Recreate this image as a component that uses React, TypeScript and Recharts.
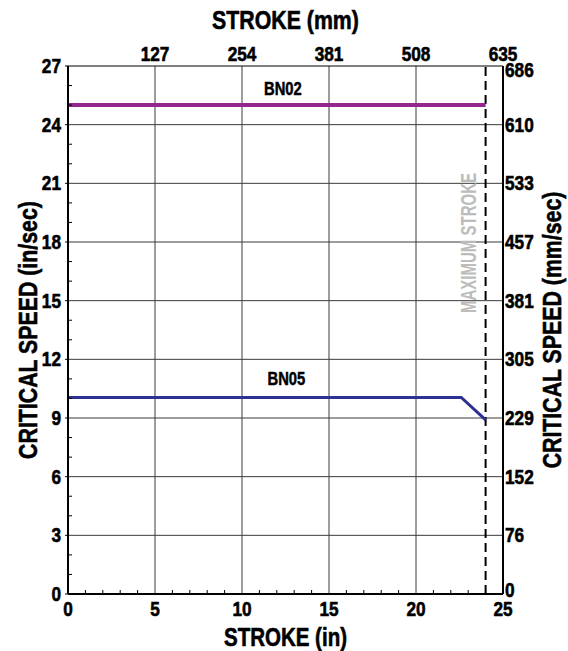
import React from 'react';
import { LineChart, Line, XAxis, YAxis, ReferenceLine, ReferenceDot, Label } from 'recharts';

// ---- data ----
const strokeInTicks = [0, 1, 2, 3, 4, 5, 6, 7, 8, 9, 10, 11, 12, 13, 14, 15, 16, 17, 18, 19, 20, 21, 22, 23, 24, 25];
const strokeMmTickPos = [5, 10, 15, 20, 25];
const strokeMmLabels = ['127', '254', '381', '508', '635'];
const speedInTicks = [0, 1, 2, 3, 4, 5, 6, 7, 8, 9, 10, 11, 12, 13, 14, 15, 16, 17, 18, 19, 20, 21, 22, 23, 24, 25, 26, 27];
const speedInMajor = [0, 3, 6, 9, 12, 15, 18, 21, 24, 27];
const speedMmLabels = ['0', '76', '152', '229', '305', '381', '457', '533', '610', '686'];
const gridStrokeIn = [5, 10, 15, 20];
const gridSpeedIn = [3, 6, 9, 12, 15, 18, 21, 24];
const maxStrokeIn = 24;

const bn02Stroke = [0, 24];
const bn02Speed = [25, 25];
const bn05Stroke = [0, 22.6, 24];
const bn05Speed = [10.05, 10.05, 8.9];

const bn02Data = bn02Stroke.map((s, i) => ({ stroke: s, speed: bn02Speed[i] }));
const bn05Data = bn05Stroke.map((s, i) => ({ stroke: s, speed: bn05Speed[i] }));

const FONT = "'Liberation Sans', Arial, Helvetica, sans-serif";
const TICK_FS = 21;
const TITLE_FS = 26;
const SQUEEZE = 0.82;

const NText = (props: any) => {
  const { x, y, anchor = 'middle', fs, rot = 0, fill = '#000', children, baseline = 'central', sw = 0.6 } = props;
  return (
    <text
      x={0}
      y={0}
      transform={`translate(${x} ${y}) rotate(${rot}) scale(${SQUEEZE} 1)`}
      textAnchor={anchor}
      dominantBaseline={baseline}
      fontFamily={FONT}
      fontWeight="bold"
      fontSize={fs}
      fill={fill}
      stroke={fill}
      strokeWidth={sw}
    >
      {children}
    </text>
  );
};

const BottomTick = (props: any) => {
  const { x, y, payload } = props;
  const v = payload.value;
  if (v % 5 === 0) {
    return <NText x={x} y={y + 15} fs={TICK_FS}>{v}</NText>;
  }
  return <line x1={x} x2={x} y1={y} y2={y - 4} stroke="#000" strokeWidth={1} />;
};

const TopTick = (props: any) => {
  const { x, y, payload } = props;
  const idx = strokeMmTickPos.indexOf(Number(payload.value));
  return <NText x={x} y={y - 12} fs={TICK_FS}>{strokeMmLabels[idx]}</NText>;
};

const LeftTick = (props: any) => {
  const { x, y, payload } = props;
  const v = payload.value;
  if (v % 3 === 0) {
    return (
      <g>
        <line x1={x} x2={x - 3} y1={y} y2={y} stroke="#000" strokeWidth={1} />
        <NText x={x - 7} y={y} anchor="end" fs={TICK_FS}>{v}</NText>
      </g>
    );
  }
  return <line x1={x} x2={x + 4} y1={y} y2={y} stroke="#000" strokeWidth={1} />;
};

const RightTick = (props: any) => {
  const { x, y, payload } = props;
  const idx = speedInMajor.indexOf(Number(payload.value));
  const nudge = idx === 0 ? -4 : idx === speedInMajor.length - 1 ? 4 : 0;
  return <NText x={x + 2} y={y + nudge} anchor="start" fs={TICK_FS}>{speedMmLabels[idx]}</NText>;
};

export default function App() {
  return (
    <div style={{ position: 'absolute', left: 0, top: 0, width: 568, height: 651, background: '#fff' }}>
      <LineChart width={568} height={651} data={bn05Data} margin={{ top: 0, right: 0, bottom: 0, left: 0 }}>
        <XAxis
          xAxisId="bottom"
          type="number"
          dataKey="stroke"
          orientation="bottom"
          domain={[0, 25]}
          ticks={strokeInTicks}
          interval={0}
          height={57}
          tickSize={0}
          tickMargin={0}
          tickLine={false}
          axisLine={{ stroke: '#000', strokeWidth: 2 }}
          tick={BottomTick}
        >
          <Label
            content={(p: any) => {
              const vb = p.viewBox;
              return <NText x={vb.x + vb.width / 2} y={vb.y + 43} fs={25}>STROKE (in)</NText>;
            }}
          />
        </XAxis>
        <XAxis
          xAxisId="top"
          type="number"
          dataKey="stroke"
          orientation="top"
          domain={[0, 25]}
          ticks={strokeMmTickPos}
          interval={0}
          height={66}
          tickSize={0}
          tickMargin={0}
          tickLine={false}
          axisLine={{ stroke: '#000', strokeWidth: 1 }}
          tick={TopTick}
        >
          <Label
            content={(p: any) => {
              const vb = p.viewBox;
              return <NText x={vb.x + vb.width / 2} y={vb.y + 20} fs={TITLE_FS}>STROKE (mm)</NText>;
            }}
          />
        </XAxis>
        <YAxis
          yAxisId="left"
          type="number"
          dataKey="speed"
          orientation="left"
          domain={[0, 27]}
          ticks={speedInTicks}
          interval={0}
          width={68}
          tickSize={0}
          tickMargin={0}
          tickLine={false}
          axisLine={{ stroke: '#000', strokeWidth: 2 }}
          tick={LeftTick}
        >
          <Label
            content={(p: any) => {
              const vb = p.viewBox;
              return <NText x={vb.x + 28} y={vb.y + vb.height / 2} rot={-90} fs={TITLE_FS}>CRITICAL SPEED (in/sec)</NText>;
            }}
          />
        </YAxis>
        <YAxis
          yAxisId="right"
          type="number"
          dataKey="speed"
          orientation="right"
          domain={[0, 27]}
          ticks={speedInMajor}
          interval={0}
          width={65}
          tickSize={0}
          tickMargin={0}
          tickLine={false}
          axisLine={{ stroke: '#000', strokeWidth: 2 }}
          tick={RightTick}
        >
          <Label
            content={(p: any) => {
              const vb = p.viewBox;
              return <NText x={vb.x + 49} y={vb.y + vb.height / 2} rot={-90} fs={TITLE_FS}>CRITICAL SPEED (mm/sec)</NText>;
            }}
          />
        </YAxis>

        {gridStrokeIn.map((g) => (
          <ReferenceLine key={'gx' + g} xAxisId="bottom" yAxisId="left" x={g} stroke="#3a3a3a" strokeWidth={1} />
        ))}
        {gridSpeedIn.map((g) => (
          <ReferenceLine key={'gy' + g} xAxisId="bottom" yAxisId="left" y={g} stroke="#3a3a3a" strokeWidth={1} />
        ))}

        <ReferenceDot
          xAxisId="bottom"
          yAxisId="left"
          x={23.0}
          y={17.95}
          r={0}
          fill="none"
          stroke="none"
          label={(p: any) => {
            const vb = p.viewBox;
            const cx = vb.x + (vb.width || 0) / 2;
            const cy = vb.y + (vb.height || 0) / 2;
            return (
              <text x={cx} y={cy} textAnchor="middle" dominantBaseline="central" transform={`rotate(-90 ${cx} ${cy})`} fontFamily={FONT} fontWeight="bold" fontSize={22} fill="#bcbcbc" textLength={140} lengthAdjust="spacingAndGlyphs">
                MAXIMUM STROKE
              </text>
            );
          }}
        />

        <ReferenceLine xAxisId="bottom" yAxisId="left" x={maxStrokeIn} stroke="#000" strokeWidth={2} strokeDasharray="9 5" />

        <Line
          xAxisId="bottom"
          yAxisId="left"
          data={bn02Data}
          dataKey="speed"
          type="linear"
          stroke="#92278f"
          strokeWidth={4}
          dot={false}
          activeDot={false}
          isAnimationActive={false}
        />
        <Line
          xAxisId="bottom"
          yAxisId="left"
          data={bn05Data}
          dataKey="speed"
          type="linear"
          stroke="#2e3192"
          strokeWidth={3}
          dot={false}
          activeDot={false}
          isAnimationActive={false}
        />

        <ReferenceDot
          xAxisId="bottom"
          yAxisId="left"
          x={12.35}
          y={bn02Speed[0]}
          r={0}
          fill="none"
          stroke="none"
          label={(p: any) => {
            const vb = p.viewBox;
            const cx = vb.x + (vb.width || 0) / 2;
            const cy = vb.y + (vb.height || 0) / 2;
            return <NText x={cx} y={cy - 10} fs={18} baseline="auto" sw={0.5}>BN02</NText>;
          }}
        />
        <ReferenceDot
          xAxisId="bottom"
          yAxisId="left"
          x={12.55}
          y={bn05Speed[0]}
          r={0}
          fill="none"
          stroke="none"
          label={(p: any) => {
            const vb = p.viewBox;
            const cx = vb.x + (vb.width || 0) / 2;
            const cy = vb.y + (vb.height || 0) / 2;
            return <NText x={cx} y={cy - 12} fs={18} baseline="auto" sw={0.5}>BN05</NText>;
          }}
        />
      </LineChart>
    </div>
  );
}
